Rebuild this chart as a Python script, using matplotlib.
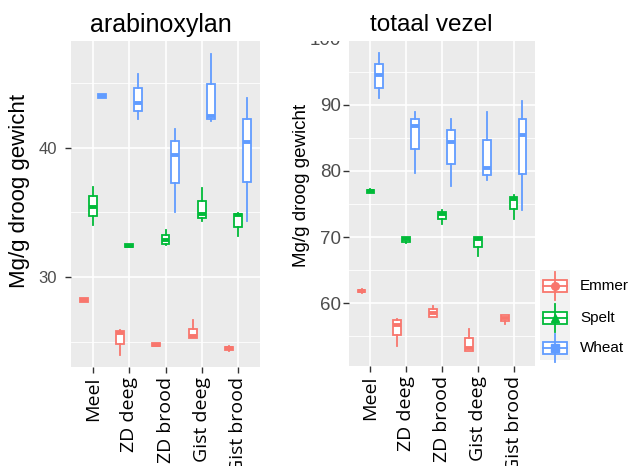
import matplotlib
matplotlib.use('Agg')
import matplotlib.pyplot as plt
import numpy as np
from matplotlib.patches import Rectangle
from matplotlib.lines import Line2D

categories = ['Meel', 'ZD deeg', 'ZD brood', 'Gist deeg', 'Gist brood']
species = ['Emmer', 'Spelt', 'Wheat']
colors = ['#F8766D', '#00BA38', '#619CFF']

# each row: [whisker low, q1, median, q3, whisker high]
arab_emmer = [[28.05, 28.08, 28.2, 28.35, 28.38],
              [24.0, 24.83, 25.68, 25.86, 25.94],
              [24.65, 24.68, 24.78, 24.9, 24.92],
              [25.3, 25.3, 25.45, 26.02, 26.66],
              [24.3, 24.35, 24.5, 24.62, 24.65]]
arab_spelt = [[34.0, 34.68, 35.45, 36.27, 36.94],
              [32.3, 32.33, 32.42, 32.52, 32.55],
              [32.5, 32.57, 32.9, 33.26, 33.65],
              [34.37, 34.6, 34.88, 35.89, 36.86],
              [33.21, 33.9, 34.8, 34.86, 34.94]]
arab_wheat = [[43.8, 43.85, 44.0, 44.1, 44.15],
              [42.19, 42.83, 43.47, 44.58, 45.66],
              [35.06, 37.25, 39.41, 40.51, 41.47],
              [42.08, 42.19, 42.44, 44.88, 47.2],
              [34.37, 37.38, 40.46, 42.19, 43.86]]

vezel_emmer = [[61.6, 61.65, 61.86, 62.05, 62.1],
               [53.6, 55.2, 56.7, 57.48, 57.58],
               [58.0, 58.0, 58.6, 59.1, 59.6],
               [52.8, 52.8, 53.2, 54.7, 56.07],
               [56.8, 57.3, 57.8, 58.2, 58.2]]
vezel_spelt = [[76.6, 76.65, 76.9, 77.15, 77.3],
               [69.06, 69.26, 69.67, 69.97, 70.0],
               [71.93, 72.7, 73.5, 73.85, 74.1],
               [67.14, 68.46, 69.67, 70.06, 70.06],
               [72.7, 74.2, 75.75, 76.1, 76.36]]
vezel_wheat = [[91.06, 92.57, 94.5, 96.1, 97.76],
               [79.7, 83.35, 86.8, 87.9, 88.94],
               [77.7, 81.0, 84.4, 86.2, 87.8],
               [78.7, 79.4, 80.5, 84.67, 88.94],
               [74.1, 79.6, 85.4, 87.9, 90.6]]

arab_major = [30, 40]
arab_minor = [25, 35, 45]
vezel_major = [60, 70, 80, 90, 100]
vezel_minor = [55, 65, 75, 85, 95]

W, H = 635, 466
fig = plt.figure(figsize=(W / 100, H / 100), dpi=100)


def px_axes(x0, y0, x1, y1):
    return fig.add_axes([x0 / W, 1 - y1 / H, (x1 - x0) / W, (y1 - y0) / H])


def draw_panel(ax, data_sets, ylim, major, minor, yfs, ypad):
    ax.set_facecolor('#EBEBEB')
    ax.set_axisbelow(True)
    for i, (data, col) in enumerate(zip(data_sets, colors)):
        stats = [dict(whislo=r[0], q1=r[1], med=r[2], q3=r[3], whishi=r[4]) for r in data]
        pos = np.arange(1, len(categories) + 1) + (i - 1) * 0.25
        ax.bxp(stats, positions=pos, widths=0.22, showfliers=False, showcaps=False,
               patch_artist=True, manage_ticks=False,
               boxprops=dict(facecolor='white', edgecolor=col, linewidth=1.3),
               whiskerprops=dict(color=col, linewidth=1.3),
               medianprops=dict(color=col, linewidth=2.8, solid_capstyle='butt'))
    ax.set_xlim(0.4, 5.6)
    ax.set_ylim(*ylim)
    ax.set_xticks(np.arange(1, len(categories) + 1))
    ax.set_xticklabels(categories, rotation=90, fontfamily='Open Sans', fontsize=14,
                       color='black', va='top', ha='center')
    ax.set_yticks(major)
    ax.set_yticks(minor, minor=True)
    ax.set_yticklabels([str(v) for v in major], fontfamily='Liberation Sans',
                       fontsize=yfs, color='#4D4D4D')
    ax.grid(which='major', color='white', linewidth=1.2)
    ax.grid(which='minor', axis='y', color='white', linewidth=0.6)
    ax.tick_params(which='minor', length=0)
    ax.tick_params(axis='y', which='major', length=4, width=1, color='#333333', pad=ypad)
    ax.tick_params(axis='x', which='major', length=4, width=1, color='#333333', pad=3)
    for s in ax.spines.values():
        s.set_visible(False)


ax1 = px_axes(71, 38, 260, 367)
draw_panel(ax1, [arab_emmer, arab_spelt, arab_wheat], (23.06, 48.46),
           arab_major, arab_minor, 12, 6)

ax2 = px_axes(349, 37.2, 535, 366)
draw_panel(ax2, [vezel_emmer, vezel_spelt, vezel_wheat], (50.53, 100.2),
           vezel_major, vezel_minor, 13.5, 2)

# white band at the top (cropped header)
fig.patches.append(Rectangle((0, 1 - 41 / H), 1, 41 / H, transform=fig.transFigure,
                             facecolor='white', edgecolor='none', zorder=5))

fig.text(161 / W, 1 - 25 / H, 'arabinoxylan', fontsize=18, fontfamily='Liberation Sans',
         ha='center', va='center', zorder=6)
fig.text(431 / W, 1 - 25 / H, 'totaal vezel', fontsize=17.5, fontfamily='Liberation Sans',
         ha='center', va='center', zorder=6)

fig.text(20 / W, 1 - 191 / H, 'Mg/g droog gewicht', fontsize=16, fontfamily='Liberation Sans',
         rotation=90, ha='center', va='center')
fig.text(302 / W, 1 - 185 / H, 'Mg/g droog gewicht', fontsize=13.5, fontfamily='Liberation Sans',
         rotation=90, ha='center', va='center')

# legend
lax = fig.add_axes([0, 0, 1, 1], zorder=10)
lax.set_xlim(0, W)
lax.set_ylim(H, 0)
lax.axis('off')
lax.add_patch(Rectangle((540, 270), 30, 90, facecolor='#F2F2F2', edgecolor='none'))
markers = ['o', '^', 's']
rows_y = [286, 318, 348]
for name, col, mk, yc in zip(species, colors, markers, rows_y):
    lax.add_line(Line2D([555, 555], [yc - 14, yc + 14], color=col, lw=1.3))
    lax.add_patch(Rectangle((543, yc - 6), 24, 12, facecolor='white', edgecolor=col, lw=1.3))
    lax.add_line(Line2D([543, 567], [yc, yc], color=col, lw=1.3))
    lax.plot([555], [yc], marker=mk, color=col, markersize=5.5, linestyle='none')
    lax.text(580, yc, name, fontsize=11, fontfamily='Liberation Sans', ha='left', va='center')

fig.savefig('out.png', dpi=100)
